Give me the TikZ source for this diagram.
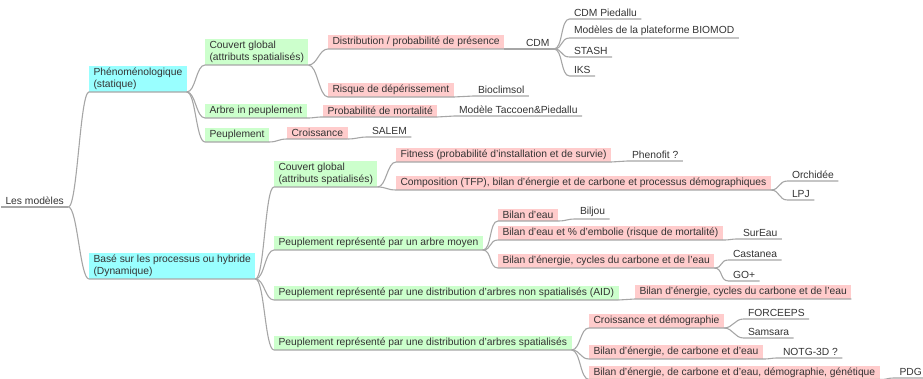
\documentclass[tikz,border=0pt]{standalone}
\usepackage{fontspec}
\setmainfont{Liberation Sans}
\definecolor{cyanbox}{HTML}{99FFFF}
\definecolor{greenbox}{HTML}{CCFFCC}
\definecolor{pinkbox}{HTML}{FFCCCC}
\definecolor{edgecol}{HTML}{A6A6A6}
\definecolor{txt}{HTML}{333333}
\tikzset{
  base/.style={anchor=south west, inner xsep=4.5pt, inner ysep=2pt, outer sep=0pt,
    font=\fontsize{10.3}{12.4}\selectfont, text=txt, align=left},
  cy/.style={base, fill=cyanbox},
  gr/.style={base, fill=greenbox},
  pk/.style={base, fill=pinkbox},
  lf/.style={base},
  edge/.style={draw=edgecol, line width=1.1pt}
}
\newcommand\lnk[2]{\draw[edge] (#1.south east) .. controls +(9,0) and +(-9,0) .. (#2.south west) -- (#2.south east);}
\begin{document}
\begin{tikzpicture}[x=1pt,y=-1pt]
\useasboundingbox (0,0) rectangle (923,379);
% root
\node[lf] (root) at (1,207) {Les modèles};
% level 1
\node[cy] (phen) at (89,92) {Phénoménologique\\(statique)};
\node[cy] (dyn) at (89,279) {Basé sur les processus ou hybride\\(Dynamique)};
% phen children
\node[gr] (cg1) at (205,65) {Couvert global\\(attributs spatialisés)};
\node[gr] (aip) at (205,118) {Arbre in peuplement};
\node[gr] (peu) at (205,142) {Peuplement};
\node[pk] (dist) at (328,49) {Distribution / probabilité de présence};
\node[pk] (risk) at (328,97) {Risque de dépérissement};
\node[pk] (mort) at (323,117) {Probabilité de mortalité};
\node[pk] (crois) at (287,139) {Croissance};
\node[lf] (cdm) at (521.5,49) {CDM};
\node[lf] (bioc) at (473.5,96) {Bioclimsol};
\node[lf] (tacc) at (454.5,116) {Modèle Taccoen\&Piedallu};
\node[lf] (salem) at (367.5,137) {SALEM};
\node[lf] (cdmp) at (569.5,19) {CDM Piedallu};
\node[lf] (biomod) at (569.5,38) {Modèles de la plateforme BIOMOD};
\node[lf] (stash) at (569.5,57) {STASH};
\node[lf] (iks) at (569.5,76) {IKS};
% dyn children
\node[gr] (cg2) at (274,187) {Couvert global\\(attributs spatialisés)};
\node[gr] (am) at (274,250) {Peuplement représenté par un arbre moyen};
\node[gr] (aid) at (274,300) {Peuplement représenté par une distribution d'arbres non spatialisés (AID)};
\node[gr] (sp) at (274,350) {Peuplement représenté par une distribution d'arbres spatialisés};
\node[pk] (fit) at (396,162) {Fitness (probabilité d'installation et de survie)};
\node[pk] (comp) at (396,190) {Composition (TFP), bilan d'énergie et de carbone et processus démographiques};
\node[lf] (phenofit) at (627.5,161) {Phenofit ?};
\node[lf] (orch) at (787.5,181) {Orchidée};
\node[lf] (lpj) at (787.5,200) {LPJ};
\node[pk] (be) at (498,221) {Bilan d'eau};
\node[pk] (beem) at (498,240) {Bilan d'eau et \% d'embolie (risque de mortalité)};
\node[pk] (ben) at (498,268) {Bilan d'énergie, cycles du carbone et de l'eau};
\node[lf] (biljou) at (575.5,219) {Biljou};
\node[lf] (sureau) at (738.5,239) {SurEau};
\node[lf] (castanea) at (728.5,260) {Castanea};
\node[lf] (go) at (728.5,281) {GO+};
\node[pk] (aidc) at (635,299) {Bilan d'énergie, cycles du carbone et de l'eau};
\node[pk] (cd) at (589,328) {Croissance et démographie};
\node[pk] (be3) at (589,359) {Bilan d'énergie, de carbone et d'eau};
\node[pk] (beg) at (589,379.5) {Bilan d'énergie, de carbone et d'eau, démographie, génétique};
\node[lf] (forc) at (743.5,319) {FORCEEPS};
\node[lf] (sams) at (743.5,338) {Samsara};
\node[lf] (notg) at (778.5,358) {NOTG-3D ?};
\node[lf] (pdg) at (895,378) {PDG};
% edges
\draw[edge] (root.south west) -- (root.south east);
\lnk{root}{phen}
\lnk{root}{dyn}
\lnk{phen}{cg1}
\lnk{phen}{aip}
\lnk{phen}{peu}
\lnk{cg1}{dist}
\lnk{cg1}{risk}
\lnk{aip}{mort}
\lnk{peu}{crois}
\lnk{dist}{cdm}
\lnk{risk}{bioc}
\lnk{mort}{tacc}
\lnk{crois}{salem}
\lnk{cdm}{cdmp}
\lnk{cdm}{biomod}
\lnk{cdm}{stash}
\lnk{cdm}{iks}
\lnk{dyn}{cg2}
\lnk{dyn}{am}
\lnk{dyn}{aid}
\lnk{dyn}{sp}
\lnk{cg2}{fit}
\lnk{cg2}{comp}
\lnk{fit}{phenofit}
\lnk{comp}{orch}
\lnk{comp}{lpj}
\lnk{am}{be}
\lnk{am}{beem}
\lnk{am}{ben}
\lnk{be}{biljou}
\lnk{beem}{sureau}
\lnk{ben}{castanea}
\lnk{ben}{go}
\lnk{aid}{aidc}
\lnk{sp}{cd}
\lnk{sp}{be3}
\lnk{sp}{beg}
\lnk{cd}{forc}
\lnk{cd}{sams}
\lnk{be3}{notg}
\lnk{beg}{pdg}
\end{tikzpicture}
\end{document}
